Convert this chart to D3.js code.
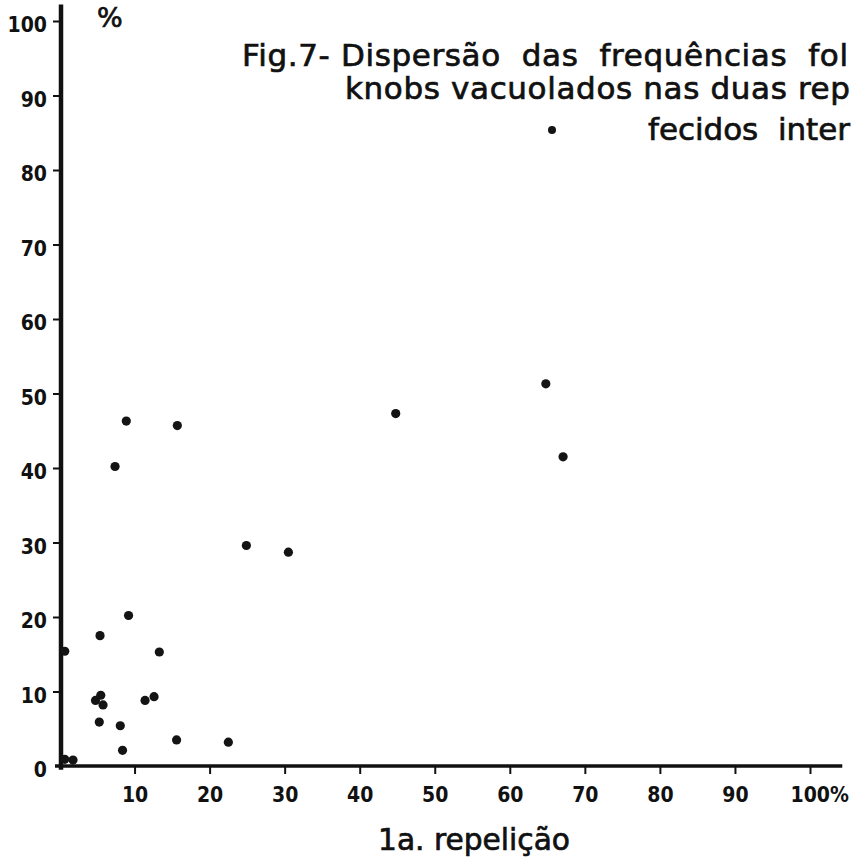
<!DOCTYPE html>
<html>
<head>
<meta charset="utf-8">
<script src="https://cdn.jsdelivr.net/npm/d3@7"></script>
<style>
  body { margin: 0; background: #fff; }
  svg { display: block; }
  .tick text { font-family: "Liberation Sans Narrow", "DejaVu Sans Condensed", sans-serif; font-weight: bold; font-size: 21px; fill: #111; }
  .tick line { stroke: #111; stroke-width: 2; }
  .lettering { font-family: "DejaVu Sans", sans-serif; fill: #111; stroke: #111; stroke-width: 0.7; white-space: pre; }
</style>
</head>
<body>
<div id="vizcont"></div>
<script>
// 1a. repetição (x) and 2a. repetição (y), % of knobs vacuolados, tecidos internos
var rep1 = [8.9, 15.7, 7.4, 44.8, 64.8, 67.1, 24.9, 30.5, 9.2, 5.4, 0.7, 13.3,
            5.5, 4.8, 5.8, 11.4, 12.6, 5.3, 8.1, 8.4, 15.6, 22.5, 0.7, 1.8];
var rep2 = [46.3, 45.7, 40.2, 47.3, 51.3, 41.5, 29.6, 28.7, 20.2, 17.5, 15.4, 15.3,
            9.5, 8.8, 8.2, 8.8, 9.3, 5.9, 5.4, 2.1, 3.5, 3.2, 0.9, 0.8];
var xTicks = [10, 20, 30, 40, 50, 60, 70, 80, 90, 100];
var yTicks = [0, 10, 20, 30, 40, 50, 60, 70, 80, 90, 100];

// title lines as in the figure (cut at the right edge of the page)
var titleLines = [
  {t: "Fig.7- Dispersão  das  frequências  fol", x: 242, y: 66, w: 606},
  {t: "knobs vacuolados nas duas rep", x: 345, y: 99, w: 505},
  {t: "fecidos  inter", x: 648, y: 140, w: 202}
];

function draw_scatter() {
  var width = 852, height = 858;

  var svg = d3.select("#vizcont")
      .append("svg")
      .attr("width", width)
      .attr("height", height);

  var x = d3.scaleLinear().domain([0, 100]).range([59.5, 810]);
  var y = d3.scaleLinear().domain([0, 100]).range([766, 21]);

  // y axis ticks + labels
  var yAxis = svg.append("g")
      .attr("transform", "translate(" + 60 + ",0)")
      .call(d3.axisLeft(y).tickValues(yTicks).tickSize(7).tickPadding(6));
  yAxis.select(".domain").remove();
  yAxis.selectAll(".tick text").attr("dy", "0.5em");
  yAxis.selectAll(".tick").filter(function(d) { return d === 0; }).select("line").remove();

  // x axis ticks + labels
  var xAxis = svg.append("g")
      .attr("transform", "translate(0," + 767 + ")")
      .call(d3.axisBottom(x).tickValues(xTicks).tickSize(7).tickPadding(13));
  xAxis.select(".domain").remove();
  xAxis.selectAll(".tick text")
      .filter(function(d) { return d === 100; })
      .text("100%")
      .attr("text-anchor", "start")
      .attr("dx", -20);

  // thick hand drawn axis lines
  svg.append("line")
      .attr("x1", 61).attr("x2", 61)
      .attr("y1", y(-0.5)).attr("y2", y(102.2))
      .attr("stroke", "#111").attr("stroke-width", 4.5);
  svg.append("line")
      .attr("x1", x(-0.6)).attr("x2", x(104.3))
      .attr("y1", 766).attr("y2", 766)
      .attr("stroke", "#111").attr("stroke-width", 3.5);

  // points
  svg.selectAll("circle.pt")
      .data(d3.range(rep1.length))
      .enter()
      .append("circle")
      .attr("class", "pt")
      .attr("cx", function(i) { return x(rep1[i]); })
      .attr("cy", function(i) { return y(rep2[i]); })
      .attr("r", 4.6)
      .style("fill", "#141414");

  // y unit
  svg.append("text")
      .attr("class", "lettering")
      .attr("x", 97).attr("y", 27)
      .attr("font-size", 27)
      .text("%");

  // title
  svg.selectAll("text.title")
      .data(titleLines)
      .enter()
      .append("text")
      .attr("class", "lettering title")
      .attr("x", function(d) { return d.x; })
      .attr("y", function(d) { return d.y; })
      .attr("font-size", 31)
      .attr("textLength", function(d) { return d.w; })
      .attr("lengthAdjust", "spacing")
      .text(function(d) { return d.t; });

  // legend dot
  svg.append("circle")
      .attr("cx", 552).attr("cy", 130)
      .attr("r", 4)
      .style("fill", "#141414");

  // x axis title
  svg.append("text")
      .attr("class", "lettering")
      .attr("x", 378).attr("y", 850)
      .attr("font-size", 30)
      .attr("textLength", 192)
      .attr("lengthAdjust", "spacingAndGlyphs")
      .text("1a. repelição");
}
draw_scatter();
</script>
</body>
</html>
